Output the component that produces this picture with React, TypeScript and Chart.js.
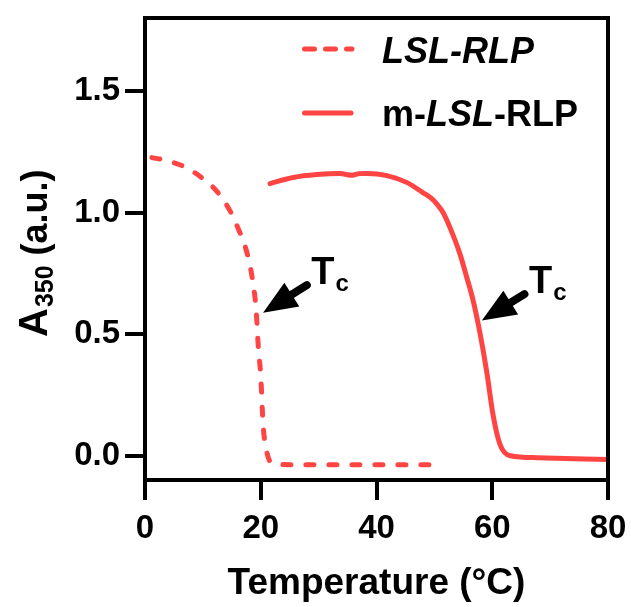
import React, { useEffect, useRef } from 'react';
import { Chart, registerables } from 'chart.js';

Chart.register(...registerables);

// LSL-RLP (dashed)
const lslTemp = [1.2, 4, 7, 10, 12.5, 14.5, 16, 17.5, 18.5, 19.2, 19.6, 20, 20.4, 21, 22, 25, 30, 35, 40, 45, 50];
const lslAbs = [1.226, 1.212, 1.186, 1.14, 1.085, 1.015, 0.94, 0.845, 0.735, 0.6, 0.44, 0.33, 0.13, 0.02, -0.032, -0.037, -0.037, -0.037, -0.037, -0.037, -0.037];

// m-LSL-RLP (solid)
const mlslTemp = [21.6, 25.6, 29.7, 33.7, 35.8, 37, 38.4, 41.8, 45.3, 48, 49.5, 50.5, 51.5, 52.7, 54.4, 55.6, 56.7, 57.9, 59.1, 60.1, 61.3, 63.1, 67.7, 80];
const mlslAbs = [1.119, 1.144, 1.156, 1.16, 1.153, 1.16, 1.161, 1.152, 1.123, 1.082, 1.058, 1.033, 1.0, 0.938, 0.831, 0.733, 0.638, 0.502, 0.337, 0.173, 0.049, 0.0, -0.008, -0.016];

const xTicks = [0, 20, 40, 60, 80];
const yTicks = [0, 0.5, 1.0, 1.5];

// Tc arrows (data coords): tip and tail
const arrowTipX = [20.4, 58.2];
const arrowTipY = [0.588, 0.556];
const arrowTailX = [28.4, 66.0];
const arrowTailY = [0.708, 0.671];

const RED = 'rgb(255,68,68)';
const FAM = "'Liberation Sans', Arial, sans-serif";

const decorPlugin = {
  id: 'decor',
  afterDraw(chart: any) {
    const ctx = chart.ctx as CanvasRenderingContext2D;
    const { left, right, top, bottom } = chart.chartArea;
    const xs = chart.scales.x;
    const ys = chart.scales.y;
    ctx.save();
    // frame top/right
    ctx.strokeStyle = '#000';
    ctx.lineWidth = 4;
    ctx.lineCap = 'round';
    ctx.beginPath();
    ctx.moveTo(left, top);
    ctx.lineTo(right, top);
    ctx.lineTo(right, bottom);
    ctx.stroke();

    // arrows
    for (let i = 0; i < arrowTipX.length; i++) {
      const tx = xs.getPixelForValue(arrowTipX[i]);
      const ty = ys.getPixelForValue(arrowTipY[i]);
      const sx = xs.getPixelForValue(arrowTailX[i]);
      const sy = ys.getPixelForValue(arrowTailY[i]);
      const dx = sx - tx, dy = sy - ty;
      const len = Math.hypot(dx, dy);
      const ux = dx / len, uy = dy / len;
      const px = -uy, py = ux;
      const headLen = 34, headHalf = 14;
      const bx = tx + ux * headLen, by = ty + uy * headLen;
      ctx.fillStyle = '#000';
      ctx.beginPath();
      ctx.moveTo(tx, ty);
      ctx.lineTo(bx + px * headHalf, by + py * headHalf);
      ctx.lineTo(bx - px * headHalf, by - py * headHalf);
      ctx.closePath();
      ctx.fill();
      ctx.lineWidth = 8;
      ctx.lineCap = 'round';
      ctx.beginPath();
      ctx.moveTo(bx - ux * 4, by - uy * 4);
      ctx.lineTo(sx - ux * 3, sy - uy * 3);
      ctx.stroke();
      // Tc label
      ctx.textBaseline = 'alphabetic';
      ctx.textAlign = 'left';
      ctx.font = `bold 38px ${FAM}`;
      const lx = sx + 2, ly = sy;
      ctx.fillText('T', lx, ly);
      const tw = ctx.measureText('T').width;
      ctx.font = `bold 24px ${FAM}`;
      ctx.fillText('c', lx + tw + 1, ly + 7);
    }

    // legend
    ctx.lineWidth = 5;
    ctx.strokeStyle = RED;
    ctx.lineCap = 'round';
    ctx.setLineDash([10, 11]);
    ctx.beginPath();
    ctx.moveTo(304.5, 49);
    ctx.lineTo(352, 49);
    ctx.stroke();
    ctx.setLineDash([]);
    ctx.beginPath();
    ctx.moveTo(304.5, 113);
    ctx.lineTo(351, 113);
    ctx.stroke();

    ctx.fillStyle = '#000';
    ctx.textBaseline = 'alphabetic';
    ctx.textAlign = 'left';
    ctx.font = `italic bold 36px ${FAM}`;
    ctx.fillText('LSL-RLP', 382, 63);
    let x = 382;
    const parts: [string, boolean][] = [['m-', false], ['LSL', true], ['-RLP', false]];
    for (const [t, it] of parts) {
      ctx.font = `${it ? 'italic ' : ''}bold 36px ${FAM}`;
      ctx.fillText(t, x, 126);
      x += ctx.measureText(t).width;
    }

    // y-axis title with subscript
    ctx.save();
    ctx.translate(47, 337);
    ctx.rotate(-Math.PI / 2);
    ctx.font = `bold 40px ${FAM}`;
    ctx.fillText('A', 0, 0);
    let p = ctx.measureText('A').width + 1;
    ctx.font = `bold 25px ${FAM}`;
    ctx.fillText('350', p, 6);
    p += ctx.measureText('350').width;
    ctx.font = `bold 36px ${FAM}`;
    ctx.fillText(' (a.u.)', p, 0);
    ctx.restore();

    ctx.restore();
  },
};

export default function App() {
  const ref = useRef<HTMLCanvasElement | null>(null);
  useEffect(() => {
    if (!ref.current) return;
    const chart = new Chart(ref.current, {
      type: 'line',
      data: {
        datasets: [
          {
            label: 'LSL-RLP',
            data: lslTemp.map((t, i) => ({ x: t, y: lslAbs[i] })),
            borderColor: RED,
            borderWidth: 5,
            borderDash: [8, 15],
            borderCapStyle: 'round',
            pointRadius: 0,
            cubicInterpolationMode: 'monotone',
            fill: false,
          },
          {
            label: 'm-LSL-RLP',
            data: mlslTemp.map((t, i) => ({ x: t, y: mlslAbs[i] })),
            borderColor: RED,
            borderWidth: 5,
            borderCapStyle: 'round',
            pointRadius: 0,
            cubicInterpolationMode: 'monotone',
            fill: false,
          },
        ],
      },
      options: {
        animation: false,
        responsive: false,
        layout: { padding: { top: 18, right: 23, left: 0, bottom: 0 } },
        plugins: { legend: { display: false }, tooltip: { enabled: false } },
        scales: {
          x: {
            type: 'linear',
            min: 0,
            max: 80,
            afterBuildTicks: (s: any) => { s.ticks = xTicks.map((v) => ({ value: v })); },
            afterFit: (s: any) => { s.height = 127; s.paddingLeft = 0; s.paddingRight = 0; },
            ticks: {
              color: '#000',
              font: { family: FAM, size: 33, weight: 'bold' },
              padding: 9,
              maxRotation: 0,
              autoSkip: false,
              callback: (v: any) => String(v),
            },
            grid: { drawOnChartArea: false, color: '#000', lineWidth: 4, tickLength: 20 },
            border: { color: '#000', width: 4 },
            title: {
              display: true,
              text: 'Temperature (°C)',
              color: '#000',
              font: { family: FAM, size: 37, weight: 'bold' },
              padding: { top: 0, bottom: 1 },
            },
          },
          y: {
            type: 'linear',
            min: -0.1,
            max: 1.8,
            afterBuildTicks: (s: any) => { s.ticks = yTicks.map((v) => ({ value: v })); },
            afterFit: (s: any) => { s.width = 145; s.paddingTop = 0; s.paddingBottom = 0; },
            ticks: {
              color: '#000',
              font: { family: FAM, size: 33, weight: 'bold' },
              padding: 5,
              autoSkip: false,
              callback: (v: any) => Number(v).toFixed(1),
            },
            grid: { drawOnChartArea: false, color: '#000', lineWidth: 4, tickLength: 20 },
            border: { color: '#000', width: 4 },
          },
        },
      },
      plugins: [decorPlugin],
    } as any);
    return () => chart.destroy();
  }, []);
  return (
    <div style={{ position: 'absolute', left: 0, top: 0, width: 631, height: 607, background: '#fff' }}>
      <canvas ref={ref} width={631} height={607} style={{ display: 'block' }} />
    </div>
  );
}
